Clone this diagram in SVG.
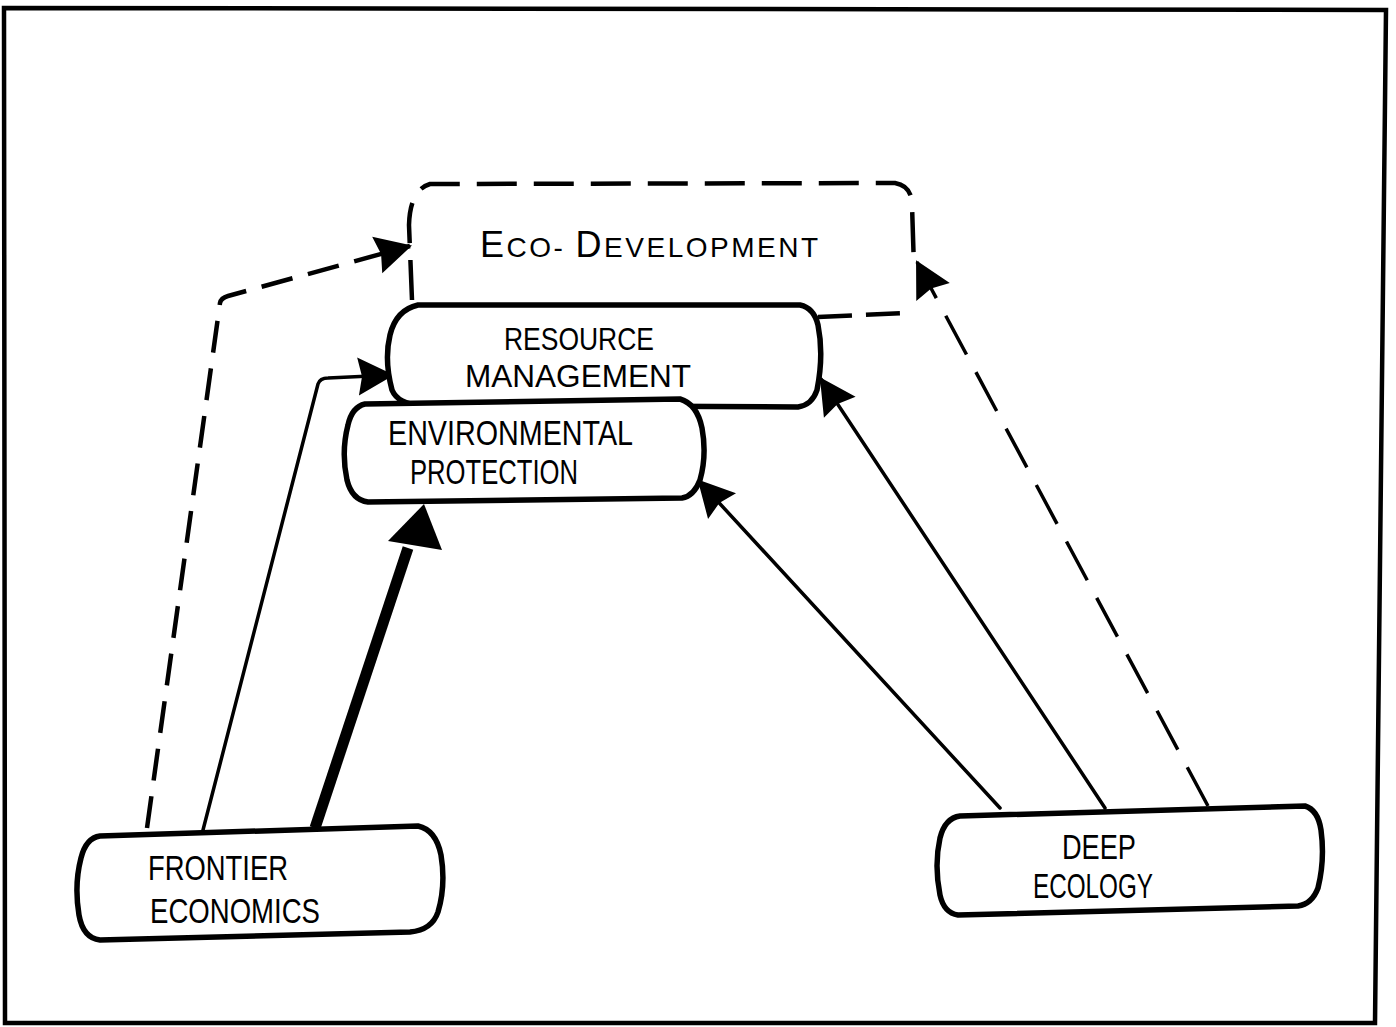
<svg xmlns="http://www.w3.org/2000/svg" width="1396" height="1027" viewBox="0 0 1396 1027">
  <style>
    .box { fill: #fff; stroke: #000; stroke-width: 5.5; stroke-linejoin: round; stroke-linecap: round; }
    .dbox { fill: none; stroke: #000; stroke-width: 4.5; stroke-linecap: butt; stroke-dasharray: 40 17; }
    .lbl { font-family: "Liberation Sans", "DejaVu Sans", sans-serif; font-size: 35px; fill: #000; }
    .line { fill: none; stroke: #000; stroke-width: 3.5; stroke-linecap: round; }
    .dash { fill: none; stroke: #000; stroke-width: 4.5; stroke-dasharray: 32 16; }
    .dashlong { fill: none; stroke: #000; stroke-width: 3.5; stroke-dasharray: 44 20; }
    .thick { fill: none; stroke: #000; stroke-width: 11; }
  </style>
  <defs>
    <marker id="head" viewBox="-40 -22 44 44" refX="0" refY="0" markerWidth="44" markerHeight="44" markerUnits="userSpaceOnUse" orient="auto">
      <path d="M2,0 L-34,-19 L-30,0 L-34,19 Z" fill="#000"/>
    </marker>
  </defs>

  <rect width="1396" height="1027" fill="#fff"/>

  <!-- outer frame -->
  <path d="M4,8 L1386,10 L1375,1023 L5,1023 Z" fill="none" stroke="#000" stroke-width="4.5"/>

  <!-- connectors -->
  <g id="connectors">
    <!-- frontier economics -> eco-development (dashed) -->
    <path class="dash" d="M147,828 L220,303 Q221,298 228,296 L410,246" marker-end="url(#head)"/>
    <!-- frontier economics -> resource management -->
    <path class="line" d="M203,830 L318,384 Q320,378 328,378 L392,375" marker-end="url(#head)"/>
    <!-- frontier economics -> environmental protection (heavy) -->
    <path class="thick" d="M315,828 L408,548"/>
    <path d="M424,504 L388,541 L442,550 Z" fill="#000"/>
    <!-- deep ecology -> environmental protection -->
    <path class="line" d="M1000,808 L699,481" marker-end="url(#head)"/>
    <!-- deep ecology -> resource management -->
    <path class="line" d="M1105,808 L821,379" marker-end="url(#head)"/>
    <!-- deep ecology -> eco-development (dashed) -->
    <path class="dashlong" d="M1208,806 L917,262" marker-end="url(#head)"/>
  </g>

  <!-- eco-development: dashed outline -->
  <g id="eco-development">
    <path class="dbox" d="M412,300 L409,225 Q410,190 430,184 L895,183 Q912,186 912,205 L914,268"/>
    <path class="dbox" d="M818,317 L905,313" style="stroke-dasharray: 34 14"/>
    <text class="lbl" x="480" y="257" style="font-size:28px" textLength="338" lengthAdjust="spacing"><tspan style="font-size:36px">E</tspan>CO- <tspan style="font-size:36px">D</tspan>EVELOPMENT</text>
  </g>

  <!-- resource management -->
  <g id="resource-management">
    <path class="box" d="M418,305 L800,305 Q814,308 818,325 Q824,355 817,390 Q812,405 798,407 L420,405 Q398,404 392,390 Q384,360 390,335 Q396,310 418,305 Z"/>
    <text class="lbl" x="504" y="350" style="font-size:32px" textLength="150" lengthAdjust="spacingAndGlyphs">RESOURCE</text>
    <text class="lbl" x="465" y="387" style="font-size:32px" textLength="226" lengthAdjust="spacingAndGlyphs">MANAGEMENT</text>
  </g>

  <!-- environmental protection -->
  <g id="environmental-protection">
    <path class="box" d="M365,404 L680,399 Q697,404 702,428 Q707,455 700,480 Q694,496 682,498 L368,502 Q352,500 347,480 Q341,452 348,425 Q352,407 365,404 Z"/>
    <text class="lbl" x="388" y="445" textLength="245" lengthAdjust="spacingAndGlyphs">ENVIRONMENTAL</text>
    <text class="lbl" x="410" y="484" textLength="168" lengthAdjust="spacingAndGlyphs">PROTECTION</text>
  </g>

  <!-- frontier economics -->
  <g id="frontier-economics">
    <path class="box" d="M100,836 L418,826 Q436,830 441,855 Q446,885 438,912 Q432,930 410,932 L100,940 Q83,938 79,915 Q74,885 81,858 Q86,838 100,836 Z"/>
    <text class="lbl" x="148" y="880" textLength="140" lengthAdjust="spacingAndGlyphs">FRONTIER</text>
    <text class="lbl" x="150" y="923" textLength="170" lengthAdjust="spacingAndGlyphs">ECONOMICS</text>
  </g>

  <!-- deep ecology -->
  <g id="deep-ecology">
    <path class="box" d="M960,816 L1305,806 Q1318,810 1321,830 Q1325,860 1318,888 Q1312,904 1298,906 L958,915 Q944,913 940,895 Q934,865 940,838 Q945,818 960,816 Z"/>
    <text class="lbl" x="1062" y="859" textLength="74" lengthAdjust="spacingAndGlyphs">DEEP</text>
    <text class="lbl" x="1033" y="898" textLength="120" lengthAdjust="spacingAndGlyphs">ECOLOGY</text>
  </g>
</svg>
